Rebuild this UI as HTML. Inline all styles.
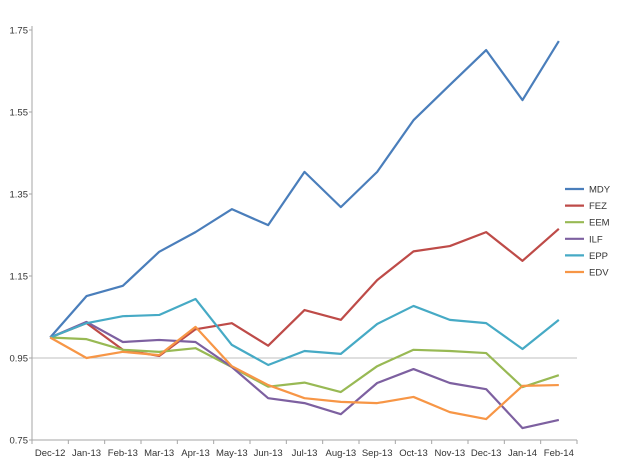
<!DOCTYPE html>
<html><head><meta charset="utf-8"><style>
html,body{margin:0;padding:0;background:#fff;}
svg text{font-family:"Liberation Sans",sans-serif;font-size:9.5px;fill:#333;}
</style></head><body>
<svg id="c" width="640" height="464"></svg>
<script>
const categories=["Dec-12","Jan-13","Feb-13","Mar-13","Apr-13","May-13","Jun-13","Jul-13","Aug-13","Sep-13","Oct-13","Nov-13","Dec-13","Jan-14","Feb-14"];
const yTicks=[0.75,0.95,1.15,1.35,1.55,1.75];
const seriesNames=["MDY","FEZ","EEM","ILF","EPP","EDV"];
const mdy=[1.0,1.101,1.126,1.209,1.257,1.313,1.274,1.404,1.318,1.404,1.530,1.616,1.701,1.579,1.723];
const fez=[1.0,1.035,0.970,0.955,1.020,1.035,0.980,1.067,1.043,1.140,1.210,1.223,1.257,1.187,1.265];
const eem=[1.0,0.996,0.970,0.965,0.974,0.928,0.880,0.890,0.867,0.930,0.970,0.967,0.962,0.879,0.908];
const ilf=[1.0,1.038,0.989,0.994,0.989,0.928,0.852,0.840,0.813,0.889,0.923,0.889,0.874,0.779,0.799];
const epp=[1.0,1.035,1.052,1.055,1.094,0.982,0.933,0.967,0.960,1.033,1.077,1.043,1.035,0.972,1.043];
const edv=[1.0,0.950,0.965,0.957,1.026,0.930,0.884,0.852,0.843,0.840,0.855,0.818,0.801,0.882,0.884];
const seriesData=[mdy,fez,eem,ilf,epp,edv];
const colors=["#4a7ebb","#be4b48","#98b954","#7d60a0","#46aac5","#f79646"];
const NS="http://www.w3.org/2000/svg";
const svg=document.getElementById('c');
const L=32,R=577,T=30,B=440,ymin=0.75,ymax=1.75;
const step=(R-L)/categories.length;
function x(i){return L+step*(i+0.5);}
function y(v){return B-(v-ymin)/(ymax-ymin)*(B-T);}
function el(t,a){const e=document.createElementNS(NS,t);for(const k in a)e.setAttribute(k,a[k]);svg.appendChild(e);return e;}
let g=el('line',{x1:L,x2:R,y1:y(0.95),y2:y(0.95),stroke:'#bfbfbf','stroke-width':1});


let ax=el('line',{x1:L,x2:L,y1:T-4,y2:B,stroke:'#a6a6a6','stroke-width':1});


let bx=el('line',{x1:L,x2:R,y1:B,y2:B,stroke:'#a6a6a6','stroke-width':1});


yTicks.forEach(v=>{
 const t=el('text',{x:L-4,y:y(v)+3.5,'text-anchor':'end'});t.textContent=v.toFixed(2);
 
 
 el('line',{x1:L-3,x2:L,y1:y(v),y2:y(v),stroke:'#a6a6a6'});
});
for(let i=0;i<=categories.length;i++){el('line',{x1:L+step*i,x2:L+step*i,y1:B,y2:B+4,stroke:'#a6a6a6'});}
categories.forEach((c,i)=>{
 const t=el('text',{x:x(i),y:B+16,'text-anchor':'middle'});t.textContent=c;
 
 
});
seriesData.forEach((d,s)=>{
 const p=el('polyline',{points:d.map((v,i)=>x(i)+','+y(v)).join(' '),fill:'none',stroke:colors[s],'stroke-width':2.2,'stroke-linejoin':'round'});
 
 
 const ly=189+s*16.6;
 const ll=el('line',{x1:565,x2:584,y1:ly,y2:ly,stroke:colors[s],'stroke-width':2.2});
 
 
 const lt=el('text',{x:589,y:ly+3.5});lt.textContent=seriesNames[s];
 
 
});
</script>
</body></html>
